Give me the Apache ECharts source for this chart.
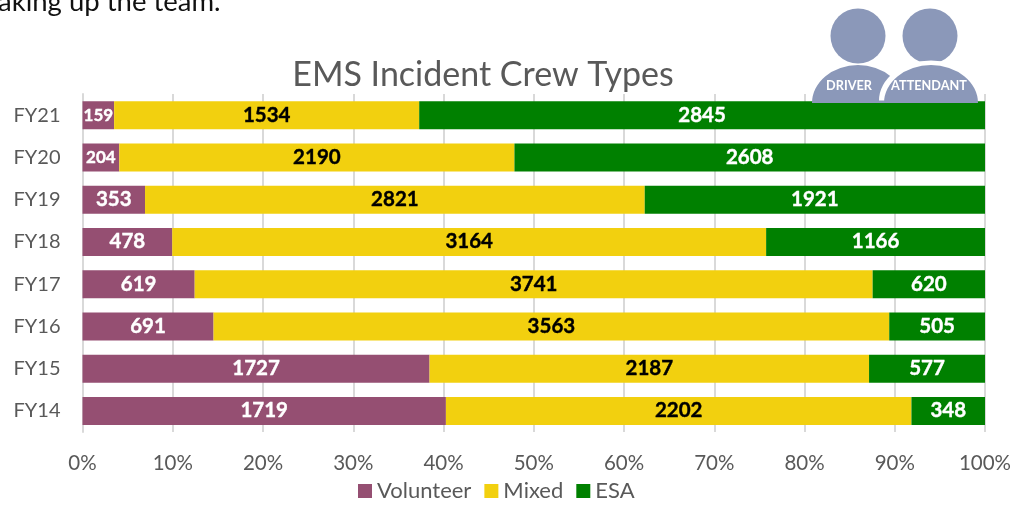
<!DOCTYPE html>
<html>
<head>
<meta charset="utf-8">
<style>
html, body { margin: 0; padding: 0; background: #fff; }
#chart { width: 1027px; height: 506px; }
</style>
<script src="https://cdn.jsdelivr.net/npm/echarts@6/dist/echarts.min.js"></script>
</head>
<body>
<div id="chart"></div>
<script>
var categories = ['FY21', 'FY20', 'FY19', 'FY18', 'FY17', 'FY16', 'FY15', 'FY14'];
var volunteer = [159, 204, 353, 478, 619, 691, 1727, 1719];
var mixed = [1534, 2190, 2821, 3164, 3741, 3563, 2187, 2202];
var esa = [2845, 2608, 1921, 1166, 620, 505, 577, 348];

var FONT = 'Lato';
var ICON = '#8b98b9';

// 100% stack: bar length is the share of the year, label is the raw count
function shares(values) {
  return values.map(function (v, i) {
    var total = volunteer[i] + mixed[i] + esa[i];
    var item = { value: v / total * 100, raw: v };
    if (v < 250) {
      item.label = { fontSize: 17 };
    }
    return item;
  });
}

function makeSeries(name, values, color, labelColor) {
  return {
    name: name,
    type: 'bar',
    stack: 'crew',
    barWidth: 28,
    data: shares(values),
    itemStyle: { color: color },
    label: {
      show: true,
      position: 'inside',
      color: labelColor,
      fontFamily: FONT,
      fontWeight: 'bold',
      fontSize: 20.5,
      textBorderColor: labelColor,
      textBorderWidth: 0.4,
      formatter: function (p) { return p.data.raw; }
    }
  };
}

var chart = echarts.init(document.getElementById('chart'));
chart.setOption({
  animation: false,
  title: {
    text: 'EMS Incident Crew Types',
    left: 478,
    top: 53,
    textAlign: 'center',
    textStyle: { fontFamily: FONT, fontWeight: 'normal', fontSize: 34, color: '#595959' }
  },
  legend: {
    left: 353,
    top: 475,
    itemWidth: 14,
    itemHeight: 14,
    itemGap: 13,
    icon: 'rect',
    textStyle: { fontFamily: FONT, fontSize: 22, color: '#595959' },
    data: ['Volunteer', 'Mixed', 'ESA']
  },
  grid: { left: 82.5, right: 42, top: 94, bottom: 74 },
  xAxis: {
    type: 'value',
    min: 0,
    max: 100,
    interval: 10,
    axisLine: { show: false },
    axisTick: { show: false },
    axisLabel: {
      formatter: '{value}%',
      margin: 21,
      fontFamily: FONT,
      fontSize: 20.5,
      color: '#595959'
    },
    splitLine: { show: true, lineStyle: { color: '#d9d9d9', width: 2 } }
  },
  yAxis: {
    type: 'category',
    inverse: true,
    data: categories,
    axisLine: { show: true, lineStyle: { color: '#d9d9d9', width: 2 } },
    axisTick: { show: false },
    axisLabel: { margin: 22, fontFamily: FONT, fontSize: 20, color: '#595959' }
  },
  series: [
    makeSeries('Volunteer', volunteer, '#954f72', '#ffffff'),
    makeSeries('Mixed', mixed, '#f2d00f', '#000000'),
    makeSeries('ESA', esa, '#008000', '#ffffff')
  ],
  graphic: [
    {
      type: 'text',
      left: -2,
      top: -12,
      silent: true,
      style: { text: 'aking up the team.', fontFamily: FONT, fontSize: 27.5, fill: '#111111' }
    },
    { type: 'circle', z: 10, shape: { cx: 858, cy: 36, r: 27.5 }, style: { fill: ICON } },
    { type: 'circle', z: 10, shape: { cx: 930, cy: 36, r: 27.5 }, style: { fill: ICON } },
    {
      type: 'sector', z: 10, x: 858, y: 103, scaleY: 38 / 46,
      shape: { r: 46, r0: 0, startAngle: Math.PI, endAngle: Math.PI * 2 },
      style: { fill: ICON }
    },
    {
      type: 'sector', z: 11, x: 931, y: 100.5, scaleY: 40 / 52,
      shape: { r: 52, r0: 0, startAngle: Math.PI, endAngle: Math.PI * 2 },
      style: { fill: '#ffffff' }
    },
    {
      type: 'sector', z: 12, x: 931, y: 103, scaleY: 38 / 47,
      shape: { r: 47, r0: 0, startAngle: Math.PI, endAngle: Math.PI * 2 },
      style: { fill: ICON }
    },
    {
      type: 'text', z: 13, x: 849, y: 86, silent: true,
      style: { text: 'DRIVER', fontFamily: FONT, fontWeight: 'bold', fontSize: 12.7, fill: '#ffffff', align: 'center', verticalAlign: 'middle' }
    },
    {
      type: 'text', z: 13, x: 929, y: 86, silent: true,
      style: { text: 'ATTENDANT', fontFamily: FONT, fontWeight: 'bold', fontSize: 12.7, fill: '#ffffff', align: 'center', verticalAlign: 'middle' }
    }
  ]
});
</script>
</body>
</html>
